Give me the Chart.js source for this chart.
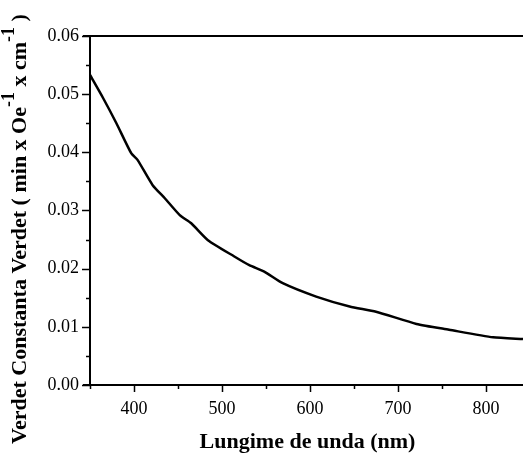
<!DOCTYPE html>
<html lang="ro">
<head>
    <meta charset="UTF-8">
    <title>Constanta Verdet</title>
    <script src="https://cdn.jsdelivr.net/npm/chart.js"></script>
    <style>
        body {
            margin: 0;
            padding: 0;
            background: #ffffff;
        }
        .chart-box {
            width: 523px;
            height: 457px;
        }
    </style>
</head>
<body>
    <div class="chart-box">
        <canvas id="verdetChart" width="523" height="457"></canvas>
    </div>

    <script>
        // Datele
        const lungimiUnda = [350, 365, 380, 397, 404, 421, 435, 452, 465, 484, 514, 531, 548, 569, 607, 645, 675, 721, 758, 808, 842];
        const constantaVerdet = [0.0533, 0.0493, 0.0450, 0.0398, 0.0387, 0.0344, 0.0321, 0.0292, 0.0278, 0.0249, 0.0221, 0.0206, 0.0195, 0.0175, 0.0152, 0.0135, 0.0126, 0.0105, 0.0095, 0.0082, 0.0079];
        const ticksX = [400, 500, 600, 700, 800];
        const ticksY = [0.00, 0.01, 0.02, 0.03, 0.04, 0.05, 0.06];

        const fontSerif = "'Liberation Serif', 'DejaVu Serif', serif";

        // Axe, gradatii si titluri desenate peste grafic
        const axePlugin = {
            id: 'axe',
            afterDraw(chart) {
                const ctx = chart.ctx;
                const a = chart.chartArea;
                const sx = chart.scales.x;
                const sy = chart.scales.y;
                ctx.save();
                ctx.strokeStyle = '#000';
                ctx.lineWidth = 2;
                ctx.beginPath();
                ctx.moveTo(a.left, a.top);
                ctx.lineTo(a.left, a.bottom);
                ctx.moveTo(a.left - 7, a.bottom);
                ctx.lineTo(a.right, a.bottom);
                ctx.moveTo(a.left - 7, a.top);
                ctx.lineTo(a.right, a.top);
                ctx.stroke();

                ctx.lineWidth = 1.5;
                ctx.beginPath();
                // gradatii Y (majore si minore)
                for (let v = 0; v <= 0.0601; v += 0.005) {
                    const y = Math.round(sy.getPixelForValue(v)) + 0.5;
                    const major = Math.round(v * 1000) % 10 === 0;
                    ctx.moveTo(a.left, y);
                    ctx.lineTo(a.left - (major ? 8 : 4), y);
                }
                // gradatii X
                for (let v = 350; v <= sx.max; v += 50) {
                    const x = Math.round(sx.getPixelForValue(v)) + 0.5;
                    const major = v % 100 === 0;
                    ctx.moveTo(x, a.bottom);
                    ctx.lineTo(x, a.bottom + (major ? 7 : 4));
                }
                ctx.stroke();

                // titlul axei X
                ctx.fillStyle = '#000';
                ctx.font = 'bold 22px ' + fontSerif;
                ctx.textAlign = 'center';
                ctx.textBaseline = 'middle';
                ctx.fillText('Lungime de unda (nm)', (a.left + a.right) / 2 + 1, 442);

                // titlul axei Y cu exponenti
                ctx.translate(20, 229);
                ctx.rotate(-Math.PI / 2);
                const parti = [
                    ['Verdet Constanta Verdet ( min x Oe', false],
                    ['-1', true],
                    [' x cm', false],
                    ['-1', true],
                    [' )', false]
                ];
                const fNormal = 'bold 22px ' + fontSerif;
                const fSup = 'bold 18px ' + fontSerif;
                let total = 0;
                parti.forEach(p => {
                    ctx.font = p[1] ? fSup : fNormal;
                    total += ctx.measureText(p[0]).width;
                });
                let x = -total / 2;
                ctx.textAlign = 'left';
                parti.forEach(p => {
                    ctx.font = p[1] ? fSup : fNormal;
                    ctx.fillText(p[0], x, p[1] ? -11 : 0);
                    x += ctx.measureText(p[0]).width;
                });
                ctx.restore();
            }
        };

        new Chart(document.getElementById('verdetChart'), {
            type: 'line',
            data: {
                datasets: [{
                    data: lungimiUnda.map((l, i) => ({ x: l, y: constantaVerdet[i] })),
                    borderColor: '#000000',
                    borderWidth: 2.5,
                    pointRadius: 0,
                    tension: 0.2,
                    fill: false
                }]
            },
            options: {
                responsive: false,
                animation: false,
                layout: {
                    padding: { top: 36, right: 0, left: 0, bottom: 0 }
                },
                plugins: {
                    legend: { display: false },
                    tooltip: { enabled: false }
                },
                scales: {
                    x: {
                        type: 'linear',
                        min: 350,
                        max: 842,
                        afterFit: s => { s.height = 72; },
                        afterBuildTicks: s => { s.ticks = ticksX.map(v => ({ value: v })); },
                        grid: { display: false, drawTicks: false },
                        border: { display: false },
                        ticks: {
                            color: '#000',
                            padding: 13,
                            maxRotation: 0,
                            font: { family: fontSerif, size: 18 }
                        }
                    },
                    y: {
                        min: 0,
                        max: 0.06,
                        afterFit: s => { s.width = 90; },
                        afterBuildTicks: s => { s.ticks = ticksY.map(v => ({ value: v })); },
                        grid: { display: false, drawTicks: false },
                        border: { display: false },
                        ticks: {
                            color: '#000',
                            padding: 11,
                            callback: v => v.toFixed(2),
                            font: { family: fontSerif, size: 18 }
                        }
                    }
                }
            },
            plugins: [axePlugin]
        });
    </script>
</body>
</html>
